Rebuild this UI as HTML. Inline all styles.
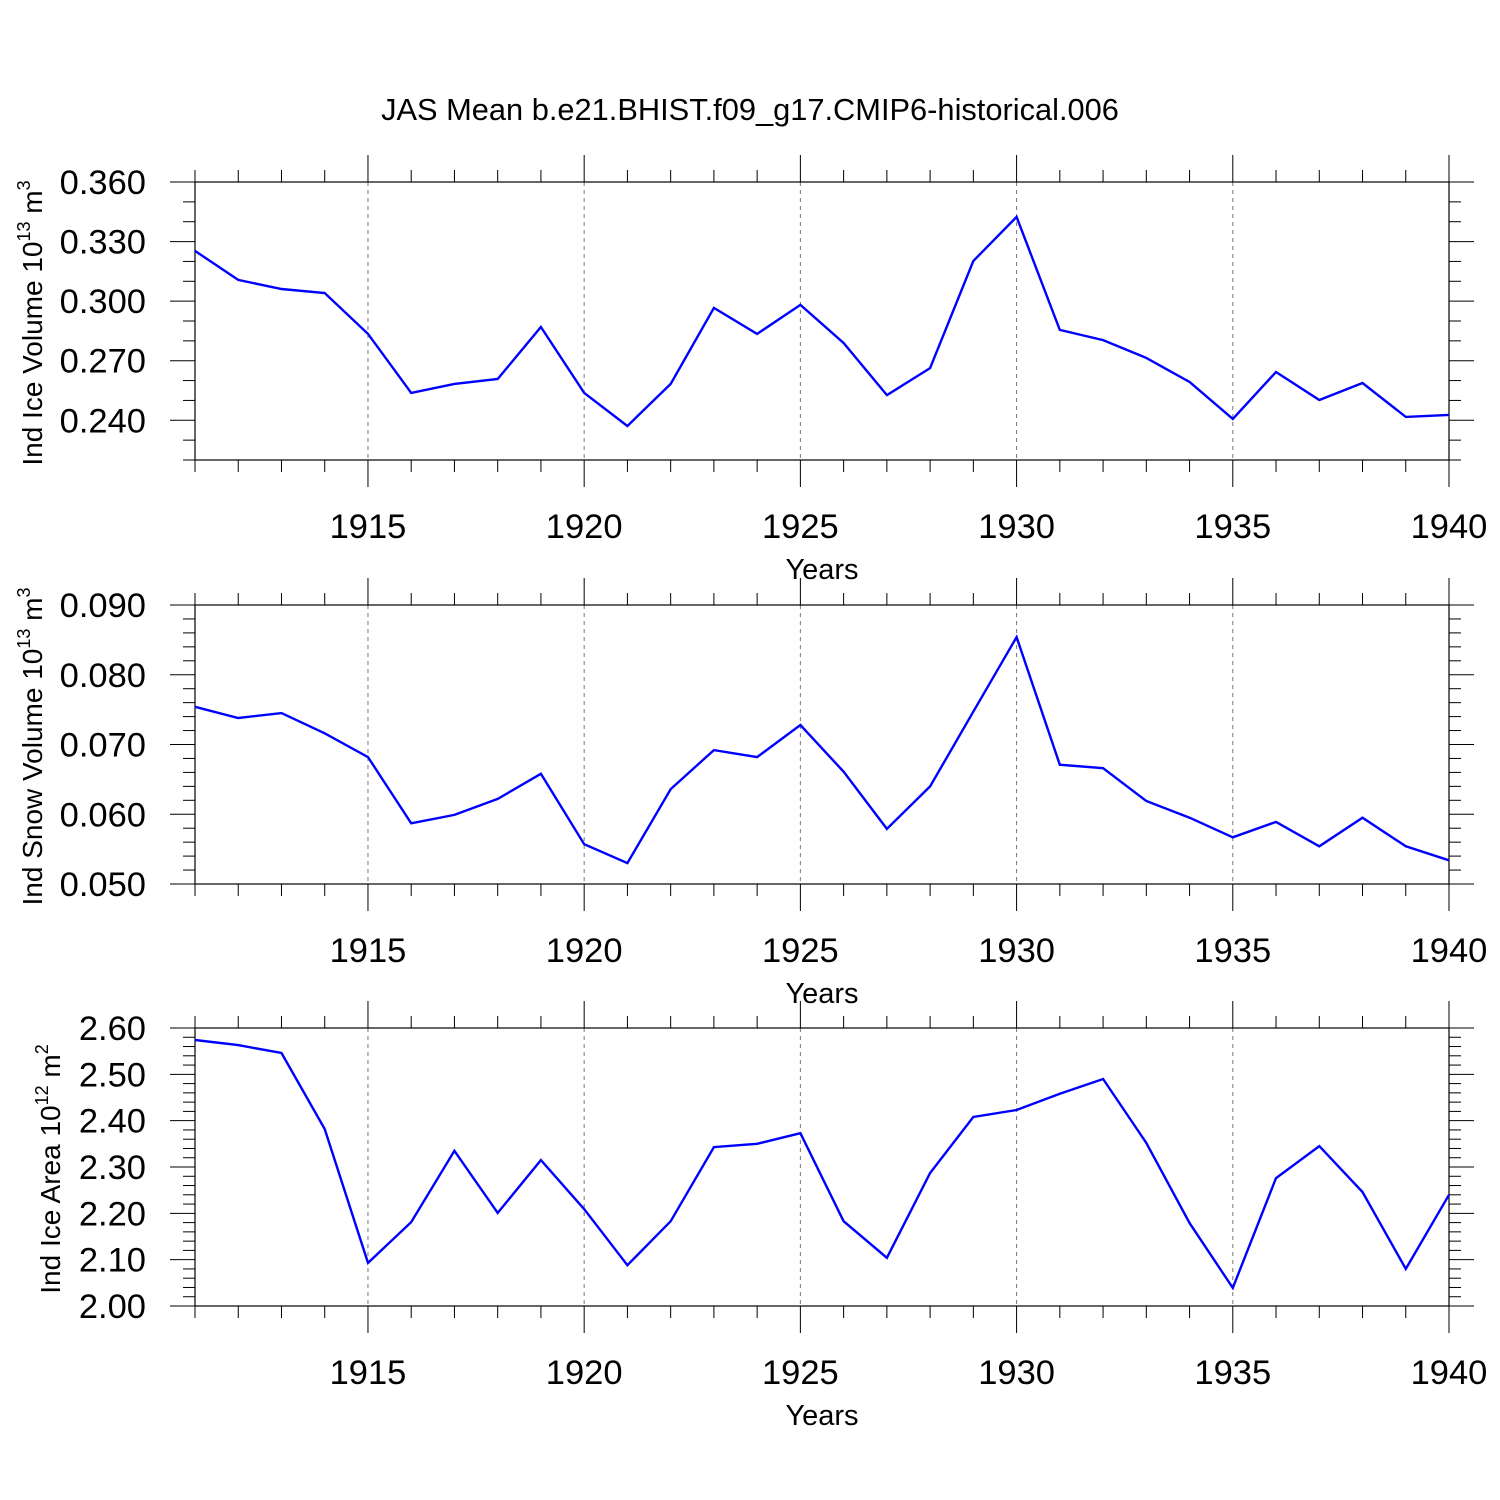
<!DOCTYPE html>
<html><head><meta charset="utf-8"><style>
html,body{margin:0;padding:0;background:#fff;}
svg{display:block;font-family:"Liberation Sans",Arial,sans-serif;}
</style></head><body>
<svg id="c" width="1500" height="1500" viewBox="0 0 1500 1500">
<text x="750" y="120" text-anchor="middle" font-size="30.8">JAS Mean b.e21.BHIST.f09_g17.CMIP6-historical.006</text>
</svg>
<script>
const years = [1911,1912,1913,1914,1915,1916,1917,1918,1919,1920,1921,1922,1923,1924,1925,1926,1927,1928,1929,1930,1931,1932,1933,1934,1935,1936,1937,1938,1939,1940];
const xTickLabels = [1915,1920,1925,1930,1935,1940];
const iceVolume = [0.3253,0.3107,0.3061,0.3041,0.2835,0.2538,0.2583,0.2608,0.2870,0.2538,0.2371,0.2583,0.2966,0.2835,0.2981,0.2789,0.2527,0.2663,0.3202,0.3424,0.2855,0.2804,0.2714,0.2593,0.2407,0.2643,0.2502,0.2588,0.2417,0.2427];
const snowVolume = [0.0754,0.0738,0.0745,0.0716,0.0682,0.0587,0.0599,0.0622,0.0658,0.0557,0.0530,0.0636,0.0692,0.0682,0.0728,0.0661,0.0579,0.0640,0.0747,0.0854,0.0671,0.0666,0.0619,0.0595,0.0567,0.0589,0.0554,0.0595,0.0554,0.0534];
const iceArea = [2.574,2.563,2.546,2.382,2.093,2.181,2.335,2.201,2.315,2.209,2.088,2.183,2.343,2.350,2.373,2.183,2.104,2.287,2.408,2.423,2.458,2.490,2.352,2.179,2.039,2.276,2.345,2.246,2.080,2.240];
const iceVolTicks = [0.240,0.270,0.300,0.330,0.360];
const snowVolTicks = [0.050,0.060,0.070,0.080,0.090];
const iceAreaTicks = [2.00,2.10,2.20,2.30,2.40,2.50,2.60];

const NS="http://www.w3.org/2000/svg";
const svg=document.getElementById('c');
function mk(t,a,p){const e=document.createElementNS(NS,t);for(const k in a)e.setAttribute(k,a[k]);(p||svg).appendChild(e);return e;}
const X0=195,X1=1449;
function xs(yr){return X0+(yr-years[0])/(years[years.length-1]-years[0])*(X1-X0);}

function panel(name,top,bot,ymin,ymax,minorStep,ticks,dec,data,titleMain,sup,unit){
  const g=mk('g',{});
  
  
  const ys=v=>bot-(v-ymin)/(ymax-ymin)*(bot-top);
  xTickLabels.forEach(yr=>{if(yr<years[years.length-1]){const l=mk('line',{x1:xs(yr),x2:xs(yr),y1:top,y2:bot,stroke:'#777','stroke-width':1,'stroke-dasharray':'4,4'},g);
    
    }});
  years.forEach(yr=>{const maj=xTickLabels.includes(yr);const L=maj?27:12;const x=xs(yr);
    mk('line',{x1:x,x2:x,y1:top-L,y2:top,stroke:'#000','stroke-width':1},g);
    mk('line',{x1:x,x2:x,y1:bot,y2:bot+L,stroke:'#000','stroke-width':1},g);});
  const n=Math.round((ymax-ymin)/minorStep);
  for(let i=0;i<=n;i++){const v=ymin+i*minorStep;const y=ys(v);
    const maj=ticks.some(t=>Math.abs(t-v)<minorStep/10);const L=maj?25:12;
    mk('line',{x1:X0-L,x2:X0,y1:y,y2:y,stroke:'#000','stroke-width':1},g);
    mk('line',{x1:X1,x2:X1+L,y1:y,y2:y,stroke:'#000','stroke-width':1},g);}
  ticks.forEach(t=>{const tx=mk('text',{x:146,y:ys(t)+12,'text-anchor':'end','font-size':34.5},g);tx.textContent=t.toFixed(dec);
    
    });
  xTickLabels.forEach(yr=>{const tx=mk('text',{x:xs(yr),y:bot+78,'text-anchor':'middle','font-size':34.5},g);tx.textContent=yr;
    
    });
  const xt=mk('text',{x:822,y:bot+119,'text-anchor':'middle','font-size':29},g);xt.textContent='Years';
  
  
  const cy=(top+bot)/2+2;
  const yt=mk('text',{x:0,y:0,'text-anchor':'middle','font-size':28,transform:`translate(${name==='ice-area'?60:42},${cy}) rotate(-90)`},g);
  
  
  yt.innerHTML=titleMain+' 10<tspan dy="-12" font-size="18">'+sup+'</tspan><tspan dy="12"> '+unit+'</tspan><tspan dy="-12" font-size="18">'+(name==='ice-area'?'2':'3')+'</tspan>';
  const fr=mk('rect',{x:X0,y:top,width:X1-X0,height:bot-top,fill:'none',stroke:'#000','stroke-width':1.2},g);
  
  
  const pts=data.map((v,i)=>xs(years[i]).toFixed(1)+','+ys(v).toFixed(1)).join(' ');
  const pl=mk('polyline',{points:pts,fill:'none',stroke:'#0000ff','stroke-width':2.4},g);
  
  
}
panel('ice-volume',182,460,0.22,0.36,0.01,iceVolTicks,3,iceVolume,'Ind Ice Volume','13','m');
panel('snow-volume',605,884,0.05,0.09,0.002,snowVolTicks,3,snowVolume,'Ind Snow Volume','13','m');
panel('ice-area',1028,1306,2.0,2.6,0.02,iceAreaTicks,2,iceArea,'Ind Ice Area','12','m');
</script>
</body></html>
